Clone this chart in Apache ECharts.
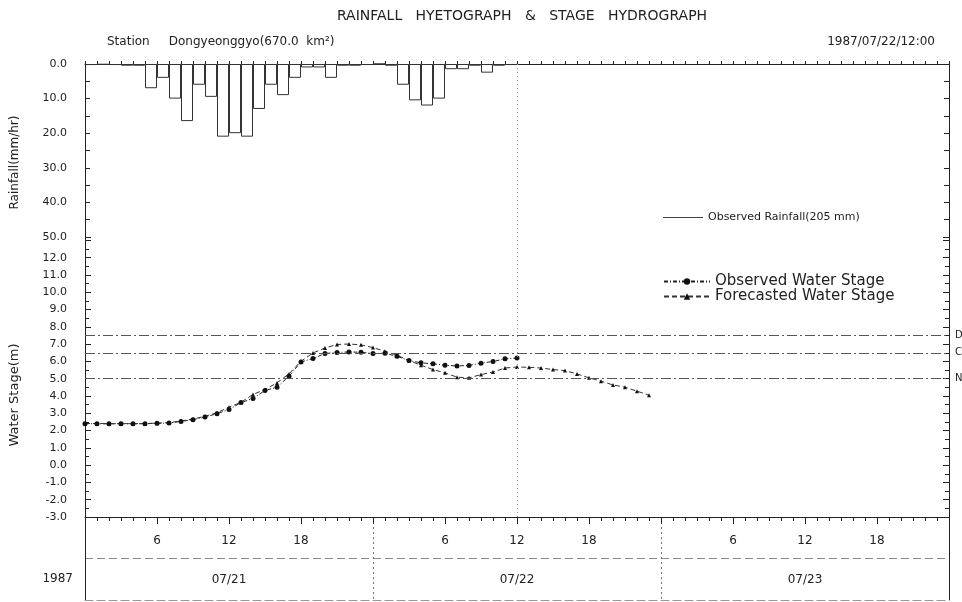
<!DOCTYPE html>
<html>
<head>
<meta charset="utf-8">
<script src="https://cdn.jsdelivr.net/npm/echarts/dist/echarts.min.js"></script>
<style>html,body{margin:0;padding:0;background:#fff}#c{width:962px;height:602px}</style>
</head>
<body>
<div id="c"></div>
<script>
// ---- data (hourly, starting 1987/07/21 00:00) ----
const rainfall = [0.3, 0.2, 0.3, 0.5, 0.5, 7.0, 4.0, 10.0, 16.5, 6.0, 9.5, 21.0,
                  20.0, 21.0, 13.0, 6.0, 9.0, 4.0, 1.0, 1.0, 4.0, 0.5, 0.5, 0.3,
                  0.0, 0.5, 6.0, 10.5, 12.0, 10.0, 1.5, 1.5, 0.5, 2.5, 0.5, 0.3];
const observedStage = [2.40, 2.40, 2.39, 2.40, 2.39, 2.40, 2.42, 2.44, 2.53, 2.63, 2.78, 2.98,
                       3.22, 3.62, 3.86, 4.32, 4.51, 5.14, 5.97, 6.17, 6.46, 6.52, 6.55, 6.53,
                       6.46, 6.47, 6.30, 6.05, 5.92, 5.86, 5.78, 5.74, 5.77, 5.90, 6.00, 6.15, 6.20];
const forecastStage = [2.41, 2.41, 2.40, 2.40, 2.40, 2.41, 2.43, 2.46, 2.56, 2.67, 2.83, 3.03,
                       3.35, 3.64, 4.09, 4.38, 4.76, 5.28, 6.01, 6.49, 6.78, 6.98, 7.01, 6.96,
                       6.80, 6.59, 6.36, 6.05, 5.78, 5.53, 5.34, 5.09, 5.05, 5.24, 5.39, 5.62,
                       5.68, 5.66, 5.62, 5.53, 5.47, 5.28, 5.05, 4.86, 4.64, 4.51, 4.28, 4.05];
const dayLabels = ['07/21', '07/22', '07/23'];
const yearLabel = '1987';
const levelNames = ['D', 'C', 'N'];
const levelValues = [7.5, 6.5, 5.0];
const forecastHour = 36;
const rainName = 'Observed Rainfall(205 mm)';
const obsName = 'Observed Water Stage';
const fcName = 'Forecasted Water Stage';

const FONT = 'DejaVu Sans';
const INK = '#222';

const chart = echarts.init(document.getElementById('c'), null, {renderer: 'canvas'});
const common = {left: 85, right: 13};
const option = {
  animation: false,
  backgroundColor: '#fff',
  textStyle: {fontFamily: FONT, color: INK},
  title: [
    {text: 'RAINFALL   HYETOGRAPH   &   STAGE   HYDROGRAPH', left: 517, top: 4, textAlign: 'center',
     textStyle: {fontFamily: FONT, fontSize: 14, fontWeight: 'normal', color: INK}},
    {text: 'Station     Dongyeonggyo(670.0  km²)', left: 102, top: 31,
     textStyle: {fontFamily: FONT, fontSize: 12, fontWeight: 'normal', color: INK}},
    {text: '1987/07/22/12:00', right: 22, top: 31,
     textStyle: {fontFamily: FONT, fontSize: 12, fontWeight: 'normal', color: INK}}
  ],
  legend: [
    {data: [{name: rainName, icon: 'rect', itemStyle: {color: '#444', borderWidth: 0}}],
     left: 658, top: 207, itemWidth: 40, itemHeight: 1, orient: 'vertical',
     textStyle: {fontFamily: FONT, fontSize: 11, color: INK}, selectedMode: false},
    {data: [obsName, fcName], left: 658, top: 269, orient: 'vertical', itemGap: 0,
     itemWidth: 46, itemHeight: 8,
     textStyle: {fontFamily: FONT, fontSize: 15, color: INK}, selectedMode: false}
  ],
  grid: [
    Object.assign({top: 64, height: 173}, common),
    Object.assign({top: 237, height: 280}, common),
    Object.assign({top: 517, height: 83}, common)
  ],
  xAxis: [
    {gridIndex: 0, type: 'value', min: 0, max: 72, interval: 1, position: 'top',
     axisLine: {onZero: false, lineStyle: {color: INK}}, axisTick: {show: true, length: 3, lineStyle: {color: INK}},
     axisLabel: {show: false}, splitLine: {show: false}},
    {gridIndex: 1, type: 'value', min: 0, max: 72, interval: 6, position: 'bottom',
     axisLine: {onZero: false, lineStyle: {color: INK}},
     axisTick: {show: true, length: 7, lineStyle: {color: INK}},
     minorTick: {show: true, splitNumber: 6, length: 4, lineStyle: {color: INK}},
     axisLabel: {margin: 18, fontSize: 12, color: INK, fontFamily: FONT,
                 formatter: v => (v % 24 === 0 ? '' : String(v % 24))},
     splitLine: {show: false}},
    {gridIndex: 2, type: 'value', min: 0, max: 72, interval: 24,
     axisLine: {show: false, onZero: false}, axisTick: {show: false}, axisLabel: {show: false},
     splitLine: {show: true, lineStyle: {color: '#777', type: [2, 3]}}},
    {gridIndex: 2, type: 'value', min: 0, max: 72, interval: 12, position: 'bottom',
     axisLine: {show: true, onZero: false, lineStyle: {color: '#999', type: [8, 4]}}, axisTick: {show: false},
     splitLine: {show: false},
     axisLabel: {inside: true, margin: 14, fontSize: 12, color: INK, fontFamily: FONT,
                 formatter: v => (v % 24 === 12 ? dayLabels[(v - 12) / 24] : ''),
                 showMinLabel: false, showMaxLabel: false}}
  ],
  yAxis: [
    {gridIndex: 0, type: 'value', min: 0, max: 50, interval: 10, inverse: true, position: 'left',
     name: 'Rainfall(mm/hr)', nameLocation: 'middle', nameGap: 64, nameRotate: 90,
     nameTextStyle: {fontFamily: FONT, fontSize: 12, color: INK, padding: [0, 24, 0, 0]},
     axisLine: {show: true, onZero: false, lineStyle: {color: INK}},
     axisTick: {show: true, inside: true, length: 5, lineStyle: {color: INK}},
     minorTick: {show: true, splitNumber: 2, length: 5, lineStyle: {color: INK}},
     axisLabel: {margin: 18, fontSize: 11, color: INK, fontFamily: FONT, formatter: v => v.toFixed(1)},
     splitLine: {show: false}},
    {gridIndex: 0, type: 'value', min: 0, max: 50, interval: 10, inverse: true, position: 'right',
     axisLine: {show: true, onZero: false, lineStyle: {color: INK}},
     axisTick: {show: true, inside: true, length: 5, lineStyle: {color: INK}},
     minorTick: {show: true, splitNumber: 2, length: 5, lineStyle: {color: INK}},
     axisLabel: {show: false}, splitLine: {show: false}},
    {gridIndex: 1, type: 'value', min: -3, max: 13.2, interval: 1, position: 'left',
     name: 'Water Stage(m)', nameLocation: 'middle', nameGap: 64, nameRotate: 90,
     nameTextStyle: {fontFamily: FONT, fontSize: 13, color: INK, padding: [0, 36, 0, 0]},
     axisLine: {show: true, onZero: false, lineStyle: {color: INK}},
     axisTick: {show: true, inside: true, length: 6, lineStyle: {color: INK}},
     minorTick: {show: true, splitNumber: 2, length: 4, lineStyle: {color: INK}},
     axisLabel: {margin: 18, fontSize: 11, color: INK, fontFamily: FONT,
                 formatter: v => (v > 12.5 ? '' : v.toFixed(1))},
     splitLine: {show: false}},
    {gridIndex: 1, type: 'value', min: -3, max: 13.2, interval: 1, position: 'right',
     axisLine: {show: true, onZero: false, lineStyle: {color: INK}},
     axisTick: {show: true, inside: true, length: 6, lineStyle: {color: INK}},
     minorTick: {show: true, splitNumber: 2, length: 4, lineStyle: {color: INK}},
     axisLabel: {show: false}, splitLine: {show: false}},
    {gridIndex: 2, type: 'category', data: [yearLabel, ''], position: 'left', boundaryGap: true,
     axisLine: {show: true, onZero: false, lineStyle: {color: INK}}, axisTick: {show: false},
     axisLabel: {margin: 12, fontSize: 12, color: INK, fontFamily: FONT},
     splitLine: {show: true, lineStyle: {color: '#888', type: [8, 4]}}},
    {gridIndex: 2, type: 'category', data: [yearLabel, ''], position: 'right', boundaryGap: true,
     axisLine: {show: true, onZero: false, lineStyle: {color: INK}}, axisTick: {show: false},
     axisLabel: {show: false}, splitLine: {show: false}}
  ],
  series: [
    {name: rainName, type: 'bar', xAxisIndex: 0, yAxisIndex: 0,
     data: rainfall.map((v, i) => [i + 0.5, v]), barWidth: 12,
     itemStyle: {color: '#fff', borderColor: '#333', borderWidth: 1},
     markLine: {silent: true, symbol: ['none', 'none'], label: {show: false},
                lineStyle: {color: '#999', type: [1, 3], width: 1},
                data: [{xAxis: forecastHour}]}},
    {name: obsName, type: 'line', xAxisIndex: 1, yAxisIndex: 2,
     data: observedStage.map((v, i) => [i, v]),
     symbol: 'circle', symbolSize: 5, color: '#111',
     lineStyle: {color: '#222', width: 1, type: [4, 2, 1, 2]},
     itemStyle: {color: '#111'},
     markLine: {silent: true, symbol: ['none', 'none'], label: {show: false},
                lineStyle: {color: '#999', type: [1, 3], width: 1},
                data: [{xAxis: forecastHour}]}},
    {name: fcName, type: 'line', xAxisIndex: 1, yAxisIndex: 2,
     data: forecastStage.map((v, i) => [i, v]),
     symbol: 'triangle', symbolSize: 4, color: '#111',
     lineStyle: {color: '#333', width: 1, type: [5, 3]},
     itemStyle: {color: '#111'},
     markLine: {silent: true, symbol: ['none', 'none'],
                label: {show: true, position: 'end', formatter: '{b}', fontSize: 10, color: INK, fontFamily: FONT, distance: 6},
                lineStyle: {color: '#555', type: [10, 3, 2, 3], width: 1},
                data: levelValues.map((v, i) => ({yAxis: v, name: levelNames[i]}))}}
  ]
};
chart.setOption(option);
</script>
</body>
</html>
